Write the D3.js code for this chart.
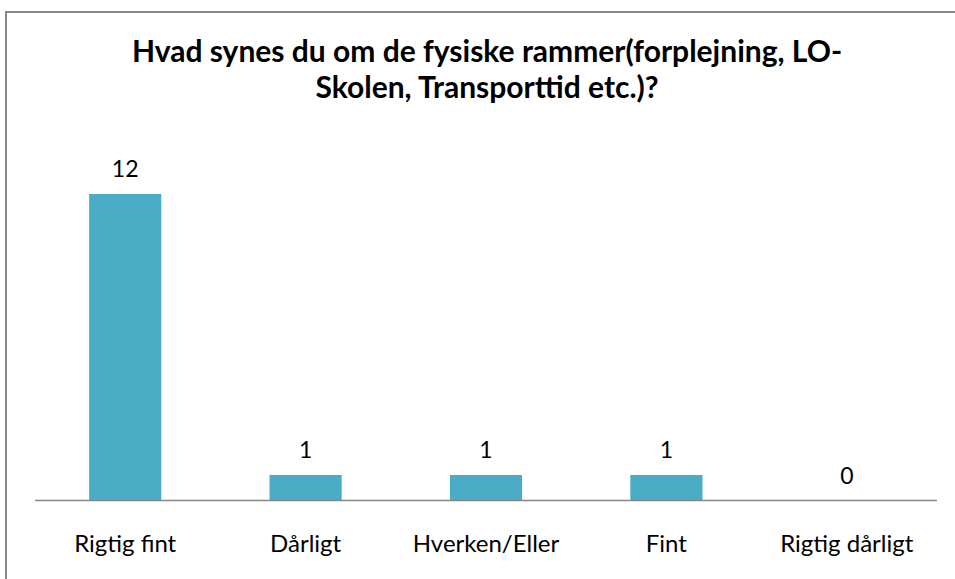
<!DOCTYPE html>
<html><head><meta charset="utf-8">
<script src="https://cdn.jsdelivr.net/npm/d3@7"></script>
<style>body{margin:0;background:#fff}svg{display:block}</style>
</head><body>
<svg id="chart" width="955" height="579"></svg>
<script>
const categories = ["Rigtig fint", "Dårligt", "Hverken/Eller", "Fint", "Rigtig dårligt"];
const values = [12, 1, 1, 1, 0];
const titleLines = ["Hvad synes du om de fysiske rammer(forplejning, LO-", "Skolen, Transporttid etc.)?"];

const svg = d3.select("#chart");
const font = "Lato, Carlito, 'Open Sans', sans-serif";

svg.append("rect").attr("x", 6).attr("y", 12).attr("width", 980).attr("height", 600)
  .attr("fill", "#fff").attr("stroke", "#878787").attr("stroke-width", 2);

const x = d3.scaleBand().domain(categories).range([35, 937]).paddingInner(0.6).paddingOuter(0.3);
const y = d3.scaleLinear().domain([0, 12]).range([500.5, 194]);

svg.selectAll("rect.bar").data(values).join("rect").attr("class", "bar")
  .attr("x", (d, i) => x(categories[i]))
  .attr("width", x.bandwidth())
  .attr("y", d => y(d))
  .attr("height", d => y(0) - y(d))
  .attr("fill", "#4BACC6");

svg.append("line").attr("x1", 35).attr("x2", 937).attr("y1", y(0)).attr("y2", y(0))
  .attr("stroke", "#868686").attr("stroke-width", 1.5);

svg.selectAll("text.val").data(values).join("text").attr("class", "val")
  .attr("x", (d, i) => x(categories[i]) + x.bandwidth() / 2)
  .attr("y", d => y(d) - 17)
  .attr("text-anchor", "middle").attr("font-family", font).attr("font-size", 23)
  .attr("fill", "#000").text(d => d);

svg.selectAll("text.cat").data(categories).join("text").attr("class", "cat")
  .attr("x", d => x(d) + x.bandwidth() / 2)
  .attr("y", 552)
  .attr("text-anchor", "middle").attr("font-family", font).attr("font-size", 24)
  .attr("fill", "#000").text(d => d);

svg.selectAll("text.title").data(titleLines).join("text").attr("class", "title")
  .attr("x", 487).attr("y", (d, i) => 62 + i * 36)
  .attr("text-anchor", "middle").attr("font-family", font).attr("font-size", 30)
  .attr("font-weight", "bold").attr("fill", "#000").text(d => d);
</script>
</body></html>
